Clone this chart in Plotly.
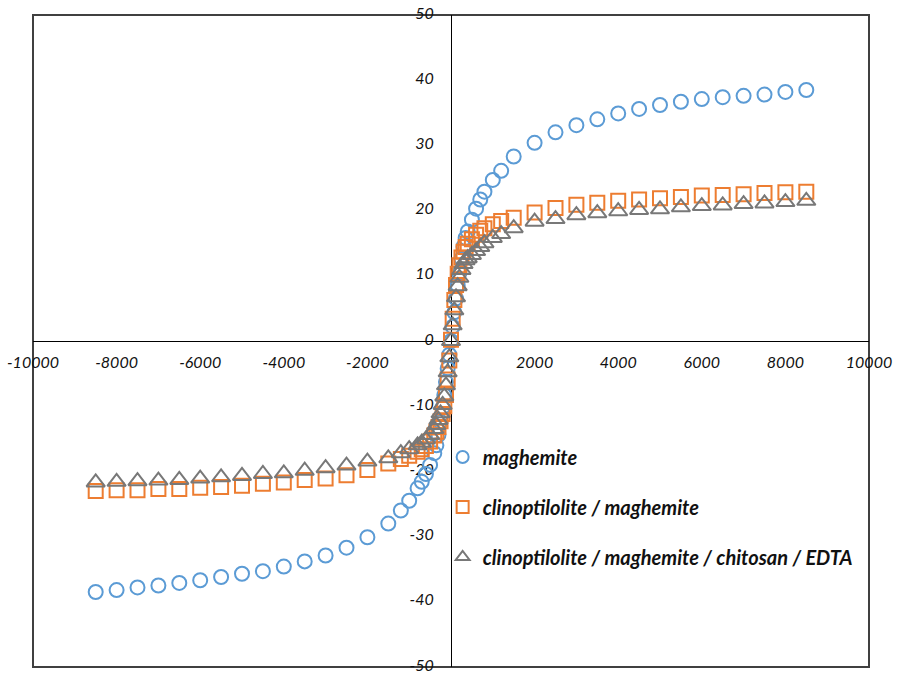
import plotly.graph_objects as go

# Applied field (Oe) and magnetisation (emu/g) for the three samples
field = [-8500, -8000, -7500, -7000, -6500, -6000, -5500, -5000, -4500, -4000,
         -3500, -3000, -2500, -2000, -1500, -1200, -1000, -800, -700, -600,
         -500, -400, -350, -300, -250, -200, -160, -120, -80, -40,
         0, 40, 80, 120, 160, 200, 250, 300, 350, 400,
         500, 600, 700, 800, 1000, 1200, 1500, 2000, 2500, 3000,
         3500, 4000, 4500, 5000, 5500, 6000, 6500, 7000, 7500, 8000, 8500]

m_maghemite = [-38.5, -38.2, -37.8, -37.5, -37.1, -36.7, -36.2, -35.7, -35.3, -34.6,
               -33.8, -32.9, -31.7, -30.1, -28.0, -26.0, -24.5, -22.6, -21.6, -20.4,
               -19.0, -17.2, -16.0, -14.4, -12.4, -10.2, -8.3, -6.3, -4.2, -2.1,
               0.0, 2.2, 4.4, 6.5, 8.5, 10.4, 12.6, 14.5, 15.8, 16.8,
               18.6, 20.3, 21.7, 22.9, 24.7, 26.1, 28.3, 30.4, 32.0, 33.1,
               34.0, 34.9, 35.6, 36.2, 36.7, 37.1, 37.4, 37.6, 37.8, 38.2, 38.5]

m_clino_maghemite = [-23.0, -22.9, -22.9, -22.7, -22.7, -22.5, -22.4, -22.2, -21.9, -21.7,
                     -21.3, -21.1, -20.6, -19.8, -18.8, -18.1, -17.6, -17.0, -16.6, -16.1,
                     -15.4, -14.5, -13.9, -13.2, -12.3, -11.2, -10.0, -8.3, -5.9, -3.0,
                     0.2, 3.4, 6.3, 8.6, 10.3, 11.6, 12.8, 13.7, 14.4, 14.9,
                     15.6, 16.3, 16.9, 17.3, 17.9, 18.4, 18.9, 19.7, 20.4, 20.9,
                     21.2, 21.5, 21.7, 21.9, 22.1, 22.3, 22.4, 22.5, 22.7, 22.8, 22.9]

m_clino_maghemite_chitosan_edta = [-21.7, -21.6, -21.5, -21.4, -21.3, -21.1, -20.9, -20.7, -20.4, -20.3,
                                   -19.9, -19.5, -19.1, -18.5, -18.0, -17.2, -16.6, -16.0, -15.6, -15.1,
                                   -14.4, -13.5, -12.9, -12.1, -11.1, -9.8, -8.5, -6.8, -4.8, -2.5,
                                   0.0, 2.4, 4.7, 6.7, 8.4, 9.7, 10.9, 11.8, 12.4, 12.7,
                                   13.2, 13.8, 14.4, 15.0, 15.8, 16.4, 17.3, 18.3, 18.7, 19.3,
                                   19.6, 19.9, 20.1, 20.2, 20.5, 20.7, 20.8, 21.0, 21.1, 21.3, 21.5]

series_names = ["maghemite",
                "clinoptilolite / maghemite",
                "clinoptilolite / maghemite / chitosan / EDTA"]

x_tick_vals = [-10000, -8000, -6000, -4000, -2000, 0, 2000, 4000, 6000, 8000, 10000]
x_tick_text = ["-10000", "-8000", "-6000", "-4000", "-2000", "0",
               "2000", "4000", "6000", "8000", "10000"]
y_tick_vals = [-50, -40, -30, -20, -10, 0, 10, 20, 30, 40, 50]
y_tick_text = ["-50", "-40", "-30", "-20", "-10", "0", "10", "20", "30", "40", "50"]

colors = ["#5B9BD5", "#ED7D31", "#787878"]
symbols = ["circle-open", "square-open", "triangle-up-open"]
sizes = [14, 14, 16]
values = [m_maghemite, m_clino_maghemite, m_clino_maghemite_chitosan_edta]

fig = go.Figure()
for i, (name, vals) in enumerate(zip(series_names, values)):
    fig.add_trace(go.Scatter(
        x=field, y=vals, mode="markers", name=name, legendgroup=f"g{i}",
        marker=dict(symbol=symbols[i], size=sizes[i], color=colors[i],
                    line=dict(width=2, color=colors[i])),
    ))

tick_font = dict(family="Lato, Carlito, sans-serif", size=16, color="#111111", style="italic")

fig.update_layout(
    width=897, height=673,
    margin=dict(l=33, r=28, t=15, b=6, autoexpand=False),
    paper_bgcolor="white", plot_bgcolor="white",
    showlegend=True,
    legend=dict(x=0.490, y=0.352, xanchor="left", yanchor="top",
                bgcolor="rgba(0,0,0,0)", tracegroupgap=21,
                itemsizing="constant",
                font=dict(family="Lato, Carlito, sans-serif", size=20, color="#111111",
                          style="italic", weight="bold")),
    xaxis=dict(range=[-10000, 10000], anchor="free", position=0.5,
               showline=True, linecolor="black", linewidth=1,
               showgrid=False, zeroline=False, automargin=False,
               tickvals=x_tick_vals, ticktext=x_tick_text,
               ticks="outside", ticklen=7, tickcolor="rgba(0,0,0,0)",
               tickfont=tick_font, layer="below traces",
               ticklabeloverflow="allow"),
    yaxis=dict(range=[-50, 50], anchor="free", position=0.5,
               showline=True, linecolor="black", linewidth=1,
               showgrid=False, zeroline=False, automargin=False,
               tickvals=y_tick_vals, ticktext=y_tick_text,
               ticks="outside", ticklen=14, tickcolor="rgba(0,0,0,0)",
               tickfont=tick_font, layer="below traces",
               ticklabeloverflow="allow", ticklabelshift=-2),
    shapes=[dict(type="rect", xref="paper", yref="paper", x0=0, y0=0, x1=1, y1=1,
                 line=dict(color="#404040", width=2), layer="below")],
)

fig.write_html("out.html")
